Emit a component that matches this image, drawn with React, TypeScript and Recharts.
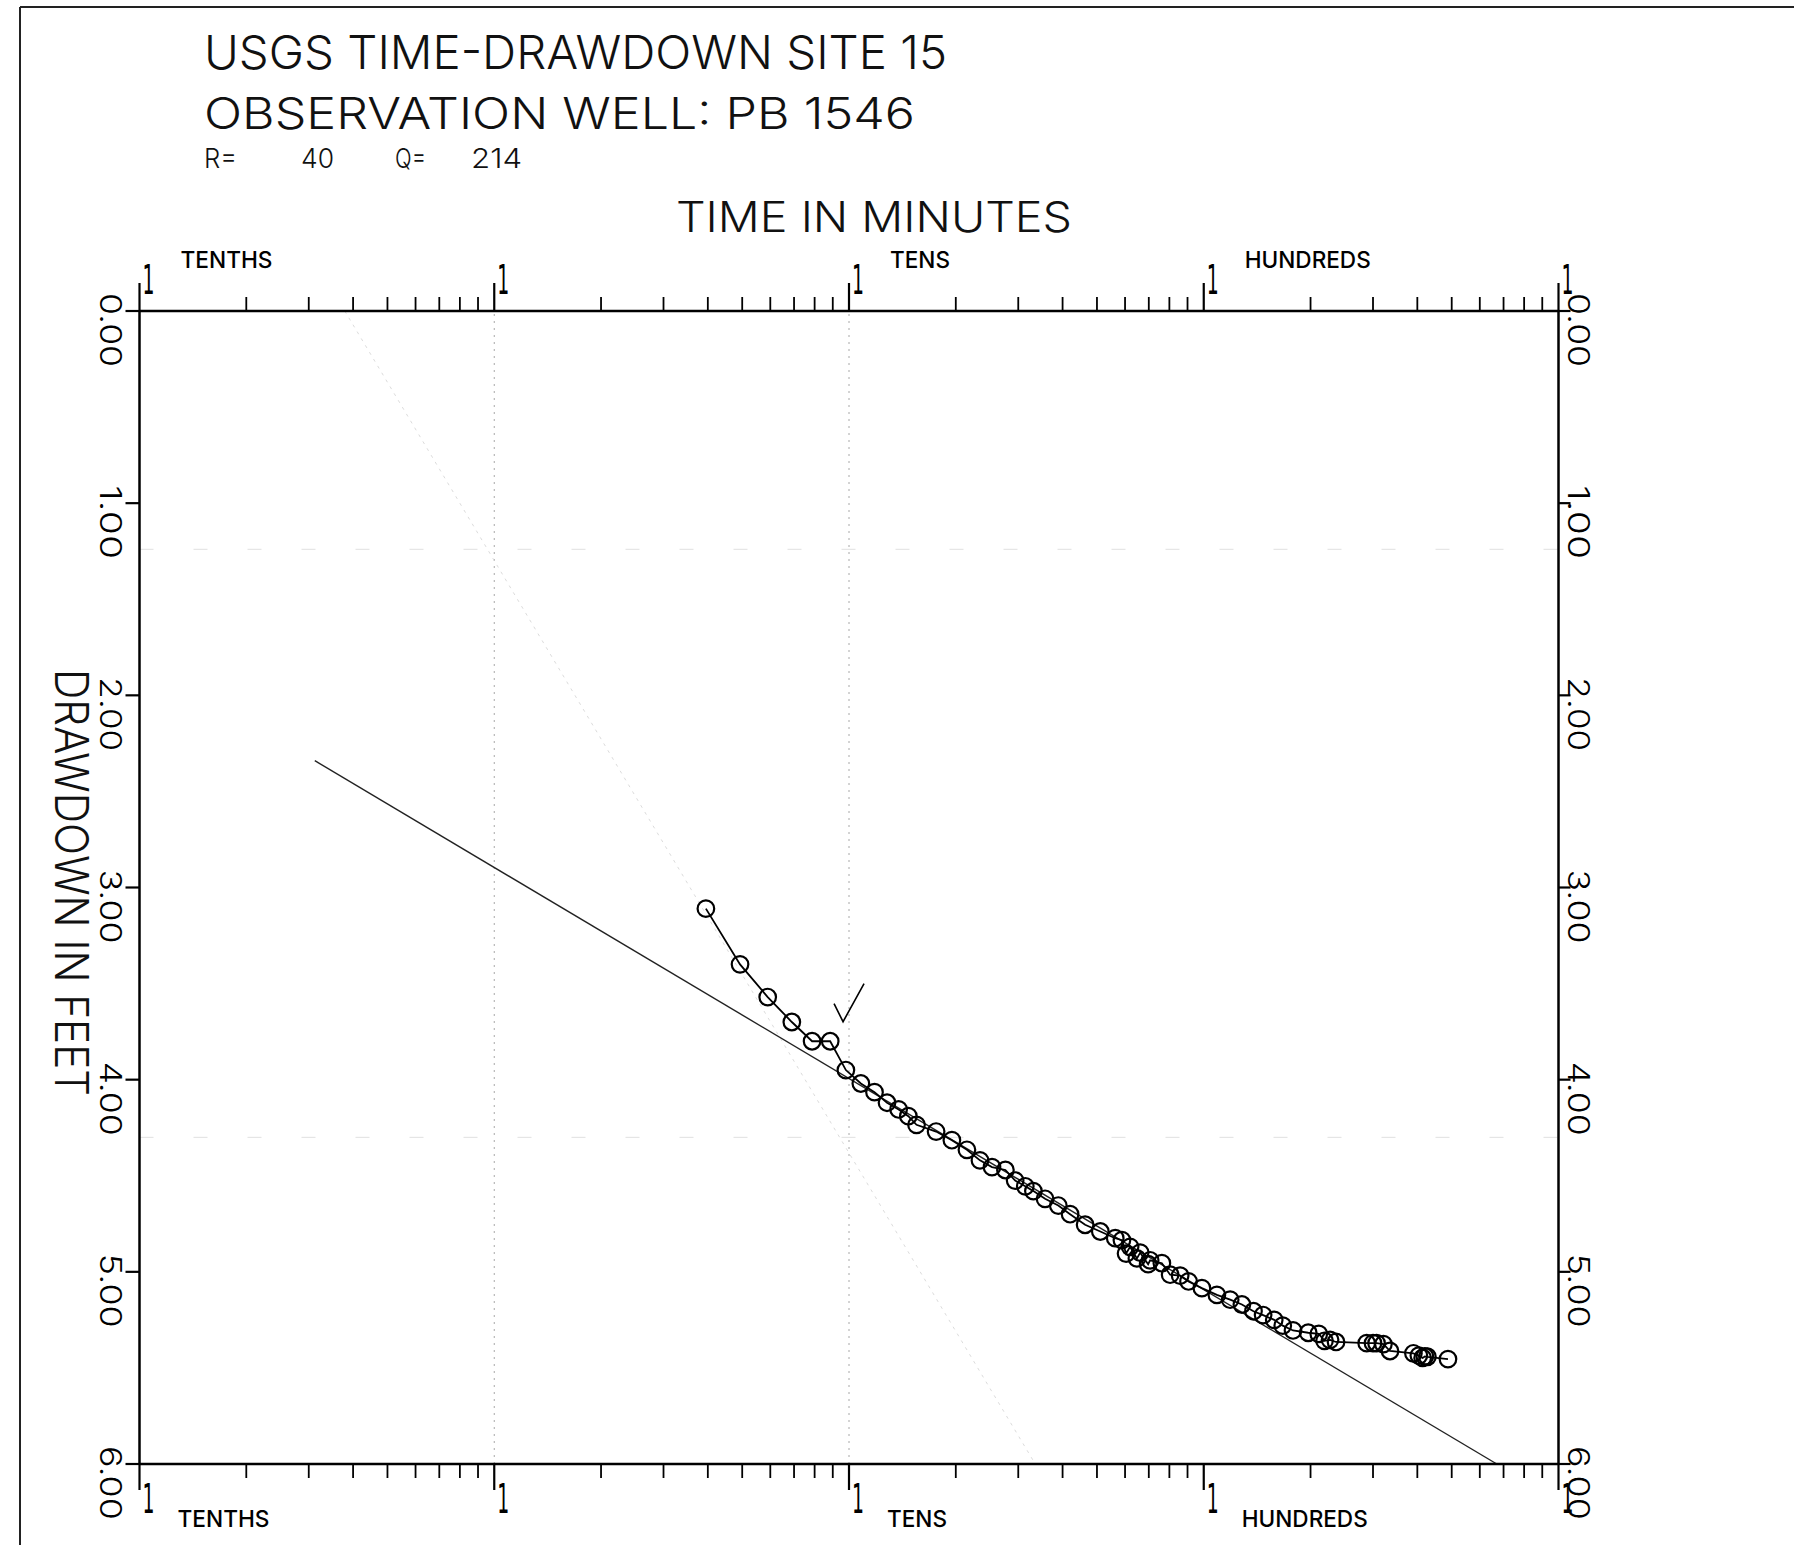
import React from 'react';
import { ScatterChart, Scatter, XAxis, YAxis, ReferenceLine, ReferenceDot } from 'recharts';

const W = 1794;
const H = 1545;
const AX_LEFT = 139.5;
const AX_RIGHT = 1558.5;
const AX_TOP = 311;
const AX_BOTTOM = 1464;
const X_AXIS_H = 40;
const Y_AXIS_W = 60;

const FONT = "Inter, 'Noto Sans', sans-serif";
const ONE_FONT = "'DejaVu Sans', sans-serif";

// observed time (minutes) and drawdown (feet)
const TIME_MIN = [3.95, 4.93, 5.9, 6.9, 7.87, 8.85, 9.8, 10.8, 11.8, 12.8, 13.8, 14.7, 15.5, 17.6, 19.5, 21.5, 23.4, 25.3, 27.6, 29.4, 31.4, 33.1, 35.7, 38.9, 42.0, 46.3, 51.1, 56.3, 58.8, 60.4, 62.0, 64.8, 66.2, 69.7, 70.6, 76.2, 80.4, 85.8, 90.6, 98.8, 108.9, 118.7, 128.1, 138.1, 147, 158, 167, 178.5, 197, 211, 219, 227, 236, 288, 300, 307, 321, 335, 390, 404, 414, 420, 427, 488];
const DRAWDOWN_FT = [3.11, 3.40, 3.57, 3.70, 3.80, 3.80, 3.95, 4.02, 4.065, 4.12, 4.155, 4.19, 4.235, 4.27, 4.315, 4.365, 4.42, 4.455, 4.47, 4.525, 4.555, 4.58, 4.62, 4.655, 4.70, 4.755, 4.79, 4.825, 4.835, 4.905, 4.87, 4.93, 4.90, 4.96, 4.94, 4.955, 5.015, 5.02, 5.05, 5.085, 5.12, 5.145, 5.17, 5.205, 5.225, 5.25, 5.28, 5.305, 5.317, 5.323, 5.359, 5.354, 5.365, 5.371, 5.371, 5.371, 5.376, 5.412, 5.424, 5.436, 5.448, 5.44, 5.442, 5.454];

// fitted straight line (semi-log)
const FIT_TIME = [0.312, 670];
const FIT_DRAWDOWN = [2.34, 6.0];

// faint stray line on the sheet
const FAINT_TIME = [0.379, 33.5];
const FAINT_DRAWDOWN = [0, 6];

const X_TICKS = [0.1, 0.2, 0.3, 0.4, 0.5, 0.6, 0.7, 0.8, 0.9, 1, 2, 3, 4, 5, 6, 7, 8, 9, 10, 20, 30, 40, 50, 60, 70, 80, 90, 100, 200, 300, 400, 500, 600, 700, 800, 900, 1000];
const DECADE_TICKS = [0.1, 1, 10, 100, 1000];
const DECADE_WORD_VALUES = [0.1, 10, 100];
const DECADE_WORDS = ['TENTHS', 'TENS', 'HUNDREDS'];
const DECADE_WORD_WIDTHS = [92, 60, 126];
const GRID_TIMES = [1, 10];
const FAINT_DRAWDOWN_LINES = [1.24, 4.3];

const Y_TICKS = [0, 1, 2, 3, 4, 5, 6];
const Y_TICK_LABELS = ['0.00', '1.00', '2.00', '3.00', '4.00', '5.00', '6.00'];

const CHECK_TIME = 10.2;
const CHECK_DRAWDOWN = 3.61;

const TITLE_1 = 'USGS TIME-DRAWDOWN SITE 15';
const TITLE_2 = 'OBSERVATION WELL: PB 1546';
const X_TITLE = 'TIME IN MINUTES';
const Y_TITLE = 'DRAWDOWN IN FEET';

function wordFor(v: number) {
  const i = DECADE_WORD_VALUES.indexOf(v);
  return i >= 0 ? { word: DECADE_WORDS[i], w: DECADE_WORD_WIDTHS[i] } : null;
}

function tickX(props: any) {
  return props && props.payload && typeof props.payload.coordinate === 'number' ? props.payload.coordinate : props.x;
}
function tickY(props: any) {
  return props && props.payload && typeof props.payload.coordinate === 'number' ? props.payload.coordinate : props.y;
}

const TopTick = (props: any) => {
  const x = tickX(props);
  const v = props.payload.value;
  const dec = DECADE_TICKS.indexOf(v) >= 0;
  const wd = wordFor(v);
  return (
    <g>
      <line x1={x} x2={x} y1={AX_TOP} y2={AX_TOP - (dec ? 28 : 14)} stroke="#000" strokeWidth={dec ? 2.2 : 1.8} />
      {dec && (
        <text x={x + 3} y={AX_TOP - 17} fontFamily={ONE_FONT} fontSize={41} fill="#000" textLength={12} lengthAdjust="spacingAndGlyphs">1</text>
      )}
      {wd && (
        <text x={x + 41} y={AX_TOP - 43} fontFamily={FONT} fontSize={23} fontWeight={500} fill="#000" textLength={wd.w} lengthAdjust="spacingAndGlyphs">{wd.word}</text>
      )}
    </g>
  );
};

const BottomTick = (props: any) => {
  const x = tickX(props);
  const v = props.payload.value;
  const dec = DECADE_TICKS.indexOf(v) >= 0;
  const wd = wordFor(v);
  return (
    <g>
      <line x1={x} x2={x} y1={AX_BOTTOM} y2={AX_BOTTOM + (dec ? 26 : 14)} stroke="#000" strokeWidth={dec ? 2.2 : 1.8} />
      {dec && (
        <text x={x + 3} y={AX_BOTTOM + 49} fontFamily={ONE_FONT} fontSize={41} fill="#000" textLength={12} lengthAdjust="spacingAndGlyphs">1</text>
      )}
      {wd && (
        <text x={x + 38} y={AX_BOTTOM + 63} fontFamily={FONT} fontSize={23} fontWeight={500} fill="#000" textLength={wd.w} lengthAdjust="spacingAndGlyphs">{wd.word}</text>
      )}
    </g>
  );
};

const LeftTick = (props: any) => {
  const y = tickY(props);
  const i = Y_TICKS.indexOf(props.payload.value);
  return (
    <g>
      <line x1={AX_LEFT - 14} x2={AX_LEFT} y1={y} y2={y} stroke="#000" strokeWidth={2.2} />
      <text transform={`translate(${AX_LEFT - 39.5},${y - 18}) rotate(90)`} fontFamily={FONT} fontSize={30} fontWeight={300} fill="#000" textLength={74} lengthAdjust="spacingAndGlyphs">{Y_TICK_LABELS[i]}</text>
    </g>
  );
};

const RightTick = (props: any) => {
  const y = tickY(props);
  const i = Y_TICKS.indexOf(props.payload.value);
  return (
    <g>
      <line x1={AX_RIGHT} x2={AX_RIGHT + 12} y1={y} y2={y} stroke="#000" strokeWidth={2.2} />
      <text transform={`translate(${AX_RIGHT + 9.5},${y - 18}) rotate(90)`} fontFamily={FONT} fontSize={30} fontWeight={300} fill="#000" textLength={74} lengthAdjust="spacingAndGlyphs">{Y_TICK_LABELS[i]}</text>
    </g>
  );
};

const Ring = (props: any) => {
  const { cx, cy } = props;
  if (cx == null || cy == null) return null;
  return <circle cx={cx} cy={cy} r={8.3} fill="none" stroke="#000" strokeWidth={2.2} />;
};

const Check = (props: any) => {
  const { cx, cy } = props;
  if (cx == null || cy == null) return null;
  return <path d={`M ${cx - 18} ${cy - 1} L ${cx - 9} ${cy + 17} L ${cx + 12} ${cy - 21}`} fill="none" stroke="#000" strokeWidth={1.6} />;
};

export default function App() {
  const obs = TIME_MIN.map((t, i) => ({ t, s: DRAWDOWN_FT[i] }));
  const axisLine = { stroke: '#000', strokeWidth: 2.5 };
  return (
    <div style={{ position: 'absolute', left: 0, top: 0, width: W, height: H, background: '#fff', overflow: 'hidden' }}>
      <ScatterChart
        width={W}
        height={H}
        margin={{
          top: AX_TOP - X_AXIS_H,
          left: AX_LEFT - Y_AXIS_W,
          right: W - AX_RIGHT - Y_AXIS_W,
          bottom: H - AX_BOTTOM - X_AXIS_H,
        }}
      >
        <XAxis xAxisId="b" type="number" dataKey="t" scale="log" domain={[0.1, 1000]} allowDataOverflow ticks={X_TICKS} interval={0} orientation="bottom" height={X_AXIS_H} tickLine={false} axisLine={axisLine} tick={(p: any) => <BottomTick {...p} />} />
        <XAxis xAxisId="t" type="number" dataKey="t" scale="log" domain={[0.1, 1000]} allowDataOverflow ticks={X_TICKS} interval={0} orientation="top" height={X_AXIS_H} tickLine={false} axisLine={axisLine} tick={(p: any) => <TopTick {...p} />} />
        <YAxis yAxisId="l" type="number" dataKey="s" domain={[0, 6]} allowDataOverflow reversed ticks={Y_TICKS} interval={0} orientation="left" width={Y_AXIS_W} tickLine={false} axisLine={axisLine} tick={(p: any) => <LeftTick {...p} />} />
        <YAxis yAxisId="r" type="number" dataKey="s" domain={[0, 6]} allowDataOverflow reversed ticks={Y_TICKS} interval={0} orientation="right" width={Y_AXIS_W} tickLine={false} axisLine={axisLine} tick={(p: any) => <RightTick {...p} />} />

        {GRID_TIMES.map((g) => (
          <ReferenceLine key={'g' + g} xAxisId="b" yAxisId="l" x={g} stroke="#a8a8a8" strokeWidth={1} strokeDasharray="2 5" />
        ))}
        {FAINT_DRAWDOWN_LINES.map((d) => (
          <ReferenceLine key={'h' + d} xAxisId="b" yAxisId="l" y={d} stroke="#e0e0e0" strokeWidth={1} strokeDasharray="14 40" />
        ))}
        <ReferenceLine
          xAxisId="b"
          yAxisId="l"
          segment={[{ x: FAINT_TIME[0], y: FAINT_DRAWDOWN[0] }, { x: FAINT_TIME[1], y: FAINT_DRAWDOWN[1] }]}
          stroke="#dcdcdc"
          strokeWidth={1}
          strokeDasharray="3 5"
          ifOverflow="visible"
        />
        <ReferenceLine
          xAxisId="b"
          yAxisId="l"
          segment={[{ x: FIT_TIME[0], y: FIT_DRAWDOWN[0] }, { x: FIT_TIME[1], y: FIT_DRAWDOWN[1] }]}
          stroke="#222"
          strokeWidth={1.4}
          ifOverflow="visible"
        />
        <Scatter
          xAxisId="b"
          yAxisId="l"
          data={obs}
          line={{ stroke: '#000', strokeWidth: 1.8 }}
          shape={(p: any) => <Ring {...p} />}
          isAnimationActive={false}
        />
        <ReferenceDot xAxisId="b" yAxisId="l" x={CHECK_TIME} y={CHECK_DRAWDOWN} r={0} shape={(p: any) => <Check {...p} />} />
      </ScatterChart>
      <svg width={W} height={H} style={{ position: 'absolute', left: 0, top: 0, pointerEvents: 'none' }}>
        <line x1={20} x2={20} y1={7} y2={H} stroke="#222" strokeWidth={2} />
        <line x1={20} x2={W} y1={7} y2={7} stroke="#222" strokeWidth={2} />
        <text x={204} y={69} fontFamily={FONT} fontSize={47} fontWeight={300} fill="#111" textLength={743} lengthAdjust="spacingAndGlyphs">{TITLE_1}</text>
        <text x={204} y={129} fontFamily={FONT} fontSize={44} fontWeight={300} fill="#111" textLength={711} lengthAdjust="spacingAndGlyphs">{TITLE_2}</text>
        <text x={204} y={168} fontFamily={FONT} fontSize={27} fontWeight={300} fill="#111" textLength={33} lengthAdjust="spacingAndGlyphs">R=</text>
        <text x={301} y={168} fontFamily={FONT} fontSize={27} fontWeight={300} fill="#111" textLength={33} lengthAdjust="spacingAndGlyphs">40</text>
        <text x={395} y={168} fontFamily={FONT} fontSize={27} fontWeight={300} fill="#111" textLength={31} lengthAdjust="spacingAndGlyphs">Q=</text>
        <text x={471} y={168} fontFamily={FONT} fontSize={27} fontWeight={300} fill="#111" textLength={51} lengthAdjust="spacingAndGlyphs">214</text>
        <text x={676} y={232} fontFamily={FONT} fontSize={42} fontWeight={300} fill="#111" textLength={396} lengthAdjust="spacingAndGlyphs">{X_TITLE}</text>
        <text transform="translate(55,669) rotate(90)" fontFamily={FONT} fontSize={46} fontWeight={300} fill="#111" textLength={427} lengthAdjust="spacingAndGlyphs">{Y_TITLE}</text>
      </svg>
    </div>
  );
}
